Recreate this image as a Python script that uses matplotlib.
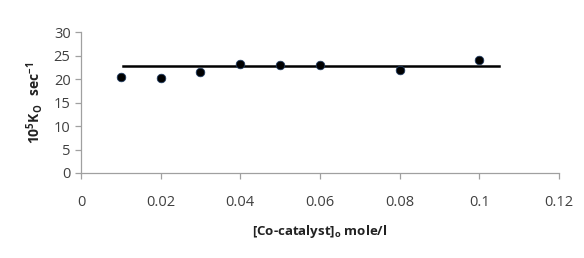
import matplotlib
matplotlib.use('Agg')
import matplotlib.pyplot as plt

plt.rcParams['font.family'] = ['Open Sans', 'DejaVu Sans']
plt.rcParams['mathtext.fontset'] = 'custom'
plt.rcParams['mathtext.rm'] = 'Open Sans'
plt.rcParams['mathtext.bf'] = 'Open Sans:bold'

# data
conc = [0.01, 0.02, 0.03, 0.04, 0.05, 0.06, 0.08, 0.1]
k0 = [20.5, 20.2, 21.5, 23.2, 23.1, 23.0, 22.0, 24.2]
fit_x = [0.0105, 0.105]
fit_y = [22.9, 22.9]

xticks = [0, 0.02, 0.04, 0.06, 0.08, 0.1, 0.12]
xticklabels = ['0', '0.02', '0.04', '0.06', '0.08', '0.1', '0.12']
yticks = [0, 5, 10, 15, 20, 25, 30]

fig = plt.figure(figsize=(5.84, 2.58), dpi=100)
ax = fig.add_axes([0.1387, 0.3295, 0.8183, 0.5453])

ax.plot(fit_x, fit_y, color='black', lw=1.8, zorder=2)
ax.scatter(conc, k0, s=38, color='black', edgecolors='#1f3a5f', linewidths=0.6, zorder=3)

ax.set_xlim(0, 0.12)
ax.set_ylim(0, 30)
ax.set_xticks(xticks)
ax.set_xticklabels(xticklabels)
ax.set_yticks(yticks)

for s in ['top', 'right']:
    ax.spines[s].set_visible(False)
for s in ['left', 'bottom']:
    ax.spines[s].set_color('#a0a0a0')
    ax.spines[s].set_linewidth(0.9)
ax.tick_params(axis='both', colors='#a0a0a0', length=4, width=0.9, labelsize=10.5, labelcolor='#404040')
ax.tick_params(axis='x', pad=12)

ax.set_ylabel(r'$\mathbf{10^{5}K_{O}\ \ sec^{-1}}$', fontsize=10, color='#222222', labelpad=6)
ax.set_xlabel(r'[Co-catalyst]$_{\mathbf{o}}$ mole/l', fontsize=9.5, fontweight='bold',
              color='#222222', labelpad=9)

fig.savefig('out.png', dpi=100)
